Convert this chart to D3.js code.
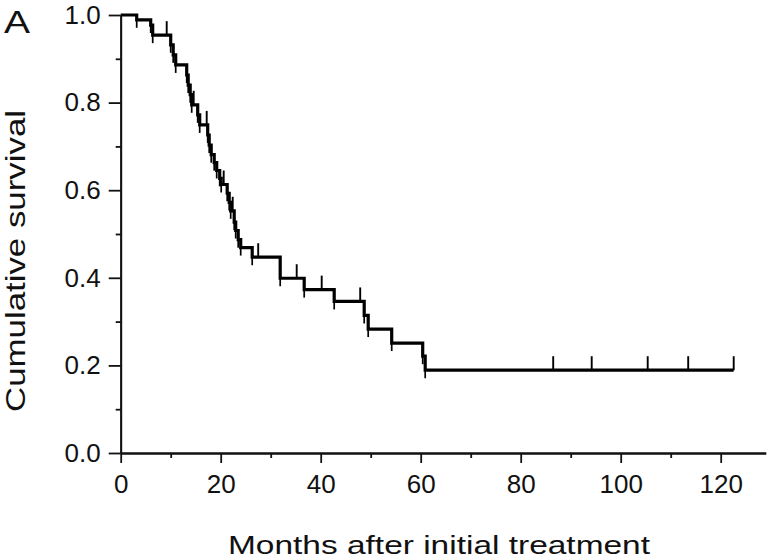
<!DOCTYPE html>
<html>
<head>
<meta charset="utf-8">
<script src="https://cdn.jsdelivr.net/npm/d3@7"></script>
<style>
  body { margin: 0; background: #fff; }
  svg text { font-family: "Liberation Sans", Arial, Helvetica, sans-serif; fill: #111; }
</style>
</head>
<body>
<div class="chart"></div>
<script>
// event times (months) and survival just after each event
const eventMonths = [3.2, 6.0, 6.4, 10.0, 10.5, 11.0, 13.2, 13.5, 13.9, 14.2, 15.4, 15.8,
    17.4, 17.7, 18.1, 18.7, 19.2, 19.8, 20.1, 21.3, 21.7, 22.0, 22.7, 23.0, 23.5, 24.0,
    26.3, 31.9, 36.7, 42.7, 48.7, 49.5, 54.2, 60.4, 60.9];
const survivalAfter = [0.989, 0.977, 0.954, 0.932, 0.909, 0.886, 0.863, 0.840, 0.818, 0.795, 0.772, 0.749,
    0.726, 0.703, 0.681, 0.663, 0.645, 0.627, 0.613, 0.593, 0.572, 0.553, 0.527, 0.508, 0.487, 0.469,
    0.447, 0.399, 0.373, 0.346, 0.314, 0.283, 0.251, 0.221, 0.189];
const censorMonths = [9.2, 14.6, 17.2, 20.6, 22.4, 27.5, 35.2, 40.2, 47.9, 86.5, 94.2, 105.4, 113.5, 122.6];
const lastFollowUp = 122.6;

const xMajor = [0, 20, 40, 60, 80, 100, 120];
const xMinor = [10, 30, 50, 70, 90, 110];
const yMajor = [0, 0.2, 0.4, 0.6, 0.8, 1.0];
const yMinor = [0.1, 0.3, 0.5, 0.7, 0.9];

const width = 776;
const height = 559;
const marginLeft = 120.7;
const marginTop = 15;
const axisY = 453;

const x = d3.scaleLinear().domain([0, 129]).range([marginLeft, marginLeft + 645]);
const y = d3.scaleLinear().domain([0, 1]).range([axisY, marginTop]);

const svg = d3.select('.chart').append('svg')
    .attr('width', width)
    .attr('height', height);

// survival at time t (step function)
function survivalAt(t) {
    let s = 1;
    eventMonths.forEach((e, i) => { if (e <= t) s = survivalAfter[i]; });
    return s;
}

// axes
svg.append('g')
    .attr('transform', `translate(0,${axisY})`)
    .call(d3.axisBottom(x).tickValues(xMajor).tickSize(10).tickSizeOuter(0).tickPadding(12).tickFormat(d3.format('d')));
svg.append('g')
    .attr('transform', `translate(0,${axisY})`)
    .call(d3.axisBottom(x).tickValues(xMinor).tickSize(5).tickSizeOuter(0).tickFormat(''));

svg.append('g')
    .attr('transform', `translate(${marginLeft},0)`)
    .call(d3.axisLeft(y).tickValues(yMajor).tickSize(12).tickSizeOuter(0).tickPadding(8).tickFormat(d3.format('.1f')));
svg.append('g')
    .attr('transform', `translate(${marginLeft},0)`)
    .call(d3.axisLeft(y).tickValues(yMinor).tickSize(5).tickSizeOuter(0).tickFormat(''));

svg.selectAll('.domain, .tick line').attr('stroke', '#111').attr('stroke-width', 1.8);
svg.selectAll('.tick text').style('font-size', '26px').attr('fill', '#111');

// step curve
const pts = [[0, 1]].concat(eventMonths.map((t, i) => [t, survivalAfter[i]]));
pts.push([lastFollowUp, survivalAfter[survivalAfter.length - 1]]);

const line = d3.line()
    .x(d => x(d[0]))
    .y(d => y(d[1]))
    .curve(d3.curveStepAfter);

svg.append('path')
    .datum(pts)
    .attr('d', line)
    .attr('fill', 'none')
    .attr('stroke', '#000')
    .attr('stroke-width', 3.2);

// small overshoot below each drop
svg.selectAll('.drop')
    .data(eventMonths)
    .join('line')
    .attr('class', 'drop')
    .attr('x1', d => x(d)).attr('x2', d => x(d))
    .attr('y1', (d, i) => y(survivalAfter[i]))
    .attr('y2', (d, i) => y(survivalAfter[i]) + 8)
    .attr('stroke', '#000')
    .attr('stroke-width', 1.7);

// censor ticks
svg.selectAll('.cens')
    .data(censorMonths)
    .join('line')
    .attr('class', 'cens')
    .attr('x1', d => x(d)).attr('x2', d => x(d))
    .attr('y1', d => y(survivalAt(d)))
    .attr('y2', d => y(survivalAt(d)) - 14)
    .attr('stroke', '#000')
    .attr('stroke-width', 1.9);

// titles
svg.append('text')
    .attr('x', 228)
    .attr('y', 554)
    .attr('textLength', 422)
    .attr('lengthAdjust', 'spacingAndGlyphs')
    .style('font-size', '26px')
    .text('Months after initial treatment');

svg.append('text')
    .attr('transform', 'translate(25,412) rotate(-90)')
    .attr('textLength', 302)
    .attr('lengthAdjust', 'spacingAndGlyphs')
    .style('font-size', '28px')
    .text('Cumulative survival');

svg.append('text')
    .attr('x', 4)
    .attr('y', 33)
    .attr('textLength', 26)
    .attr('lengthAdjust', 'spacingAndGlyphs')
    .style('font-size', '32px')
    .text('A');
</script>
</body>
</html>
